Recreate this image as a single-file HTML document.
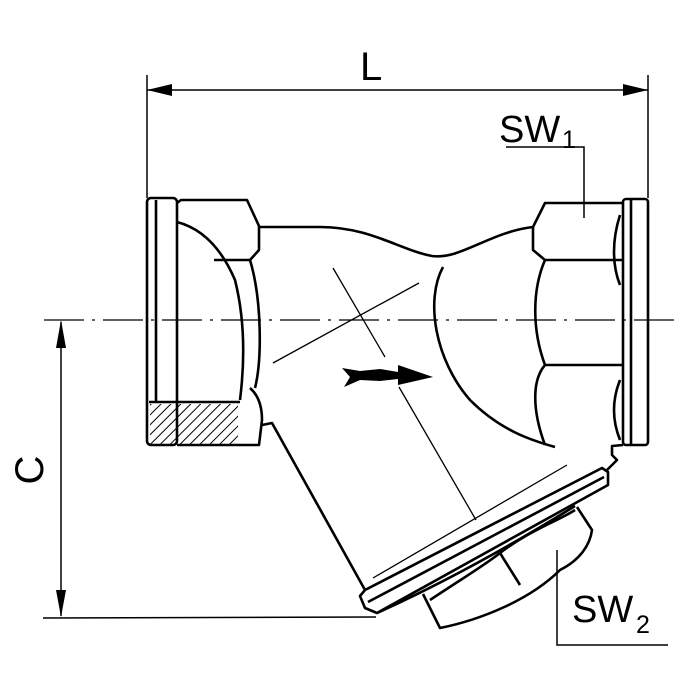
<!DOCTYPE html>
<html><head><style>
html,body{margin:0;padding:0;background:#fff;}
svg{display:block;}
text{font-family:"Liberation Sans",sans-serif;fill:#000;}
</style></head><body>
<svg width="700" height="700" viewBox="0 0 700 700" xmlns="http://www.w3.org/2000/svg">
<defs>
<pattern id="h" width="7" height="7" patternUnits="userSpaceOnUse" patternTransform="rotate(45)">
<line x1="0" y1="0" x2="0" y2="7" stroke="#000" stroke-width="2"/>
</pattern>
</defs>
<g fill="none" stroke="#000" stroke-width="1.5">
<line x1="147" y1="75" x2="147" y2="198"/>
<line x1="648" y1="75" x2="648" y2="198"/>
<line x1="147" y1="90" x2="648" y2="90"/>
<polyline points="506,147 584,147 584,218"/>
<line x1="61" y1="322" x2="61" y2="616"/>
<line x1="43" y1="618" x2="376" y2="617"/>
<line x1="44" y1="320" x2="680" y2="320" stroke-dasharray="40,8,3,8" stroke-width="1.3"/>
<polyline points="557,550 557,645 668,645"/>
</g>
<g fill="#000">
<polygon points="147,90 172,84 172,96"/>
<polygon points="648,90 623,84 623,96"/>
<polygon points="61,320 56,348 66,348"/>
<polygon points="61,617 56,590 66,590"/>
</g>
<g fill="none" stroke="#000" stroke-width="2.6" stroke-linejoin="round">
<rect x="147" y="198" width="30" height="247" rx="4"/>
<line x1="156" y1="200" x2="156" y2="402"/>
<path d="M177,203 L181,200 L247,200 L259,226 L259,250 L250,260 L214,260"/>
<path d="M177,222 C200,228 220,245 235,280 C245,320 245,360 240,400"/>
<path d="M250,260 C262,300 262,360 255,388"/>
<path d="M259,227 L320,227 C370,227 400,250 432,256 C460,260 490,232 533,227 L545,203 L623,203"/>
<path d="M533,227 L533,250 L545,260 L623,260"/>
<path d="M545,260 C532,290 532,330 545,365 L623,365"/>
<path d="M545,365 C532,380 532,410 545,445"/>
<rect x="623" y="199" width="25" height="246" rx="3"/>
<line x1="631" y1="200" x2="631" y2="444"/>
<path d="M620,215 C612,240 612,265 620,285 M620,380 C612,400 612,420 620,440"/>
<path d="M443,267 C425,300 435,360 470,400 C500,430 530,440 555,447"/>
<path d="M177,445 L259,445 L262,420 C262,405 258,395 250,388"/>
<path d="M149,402 L240,402"/>
<path d="M262,425 L272,423 L365,590"/>
<path d="M623,445 L612,446 L612,455 L617,460 L607,470"/>
<!-- cap flange band -->
<path d="M365,590 L360,596 L365,608 L377,613 L608,485 L608,472 L602,468 Z"/>
<path d="M368,602 L604,477"/>
<path d="M377,613 C450,580 520,540 575,506"/>
<!-- plug -->
<path d="M423,594 L440,628 C480,620 530,600 560,570 C580,560 590,545 592,530 L577,507"/>
<path d="M500,553 L520,585"/>
<path d="M500,553 C530,530 560,520 575,510"/>
<path d="M430,600 C460,580 485,565 500,553"/>
</g>
<g fill="none" stroke="#000" stroke-width="1.3">
<line x1="373" y1="578" x2="567" y2="465"/>
</g>
<rect x="150" y="404" width="88" height="40" fill="url(#h)"/>
<g fill="none" stroke="#000" stroke-width="1.3">
<line x1="333" y1="268" x2="385" y2="357"/>
<line x1="273" y1="363" x2="419" y2="283"/>
<line x1="399" y1="387" x2="476" y2="520"/>
</g>
<polygon points="342,368 360,371 380,369 398,372 398,365 433,377 398,385 398,379 380,381 360,380 344,387 350,377" fill="#000"/>
<text x="360" y="80" font-size="40">L</text>
<text x="499" y="142" font-size="38">SW</text>
<text x="562" y="148" font-size="25">1</text>
<text x="572" y="622" font-size="38">SW</text>
<text x="636" y="633" font-size="25">2</text>
<text x="0" y="0" font-size="40" transform="translate(43,470) rotate(-90)" text-anchor="middle">C</text>
</svg>
</body></html>
